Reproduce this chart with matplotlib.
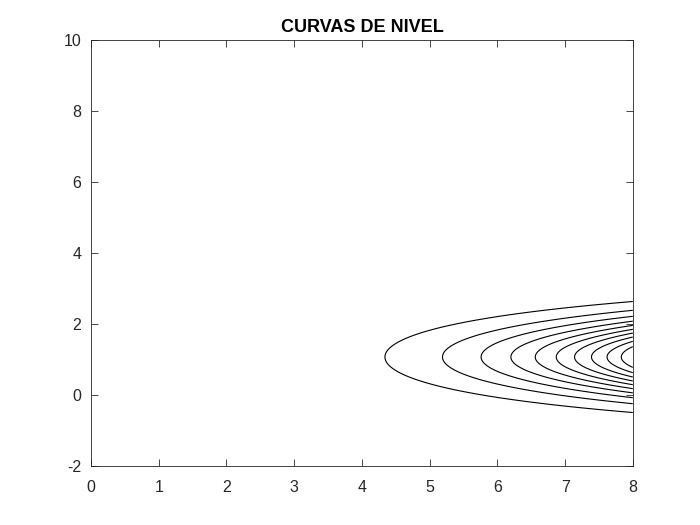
import numpy as np
import matplotlib.pyplot as plt

plt.rcParams['font.family'] = ['Liberation Sans', 'DejaVu Sans']
plt.rcParams['axes.unicode_minus'] = False

# niveles (corte de cada curva con y = y_centro)
niveles = [4.34, 5.19, 5.76, 6.20, 6.56, 6.87, 7.14, 7.39, 7.62, 7.83]
y_centro = 1.07
a = 0.25

x_ticks = [0, 1, 2, 3, 4, 5, 6, 7, 8]
y_ticks = [-2, 0, 2, 4, 6, 8, 10]

x = np.linspace(0, 8, 400)
y = np.linspace(-2, 10, 600)
X, Y = np.meshgrid(x, y)
Z = X * np.exp(-a * (Y - y_centro) ** 2)

fig = plt.figure(figsize=(7, 5.25), dpi=100)
ax = fig.add_axes([0.13, 0.1124, 0.774, 0.8114])
ax.contour(X, Y, Z, levels=niveles, colors='k', linewidths=0.8)

ax.set_xlim(0, 8)
ax.set_ylim(-2, 10)
ax.set_xticks(x_ticks)
ax.set_yticks(y_ticks)
ax.tick_params(direction='in', top=True, right=True, length=5, width=0.6,
               labelsize=11.5, colors='#262626')
ax.tick_params(axis='x', pad=10)
ax.tick_params(axis='y', pad=7)
for sp in ax.spines.values():
    sp.set_linewidth(0.6)
    sp.set_color('#262626')
ax.set_title('CURVAS DE NIVEL', fontsize=13, fontweight='bold', pad=6)

fig.savefig('out.png', dpi=100)
